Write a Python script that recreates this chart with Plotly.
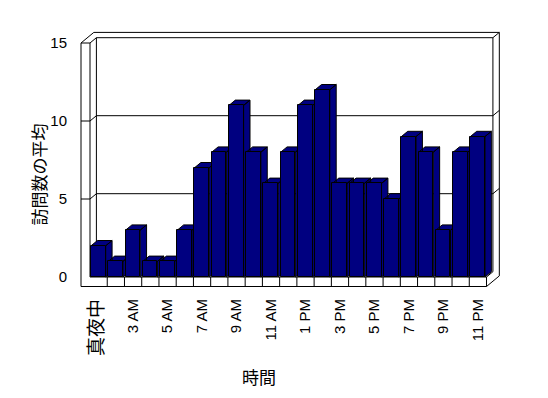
import plotly.graph_objects as go

# ---- data ----
categories = ["真夜中", "1 AM", "3 AM", "4 AM", "5 AM", "6 AM", "7 AM", "8 AM",
              "9 AM", "10 AM", "11 AM", "正午", "1 PM", "2 PM", "3 PM", "4 PM",
              "5 PM", "6 PM", "7 PM", "8 PM", "9 PM", "10 PM", "11 PM"]
values = [2, 1, 3, 1, 1, 3, 7, 8, 11, 8, 6, 8, 11, 12, 6, 6, 6, 5, 9, 8, 3, 8, 9]
y_ticks = [0, 5, 10, 15]
x_title = "時間"
y_title = "訪問数の平均"

# ---- layout geometry (pixels, in window coordinates) ----
W, H = 548, 398
PAGE_OFF = 8                           # default body margin of the html page
L, R, T, B = 79, 503, 31, 289          # plot area in pixels
X0PX, UX = 90.0, 17.24                 # pixel of x=-0.5, px per category
Y0PX, UY = 277.0, 15.6                 # pixel of y=0, px per unit
xrange_ = [(L - X0PX) / UX - 0.5, (R - X0PX) / UX - 0.5]
yrange_ = [(Y0PX - B) / UY, (Y0PX - T) / UY]
DX, DY = 6.4 / UX, 5.3 / UY            # one depth step in data units
XO = (81 - X0PX) / UX - 0.5            # outer edge of left wall
YB = (Y0PX - 286.5) / UY               # bottom of floor slab
XL = -0.5
XR = len(categories) - 0.5
YTOP = y_ticks[-1]

BAR_W, BAR_OFF = 0.85, -0.44
NAVY = "#000080"

xpos = list(range(len(categories)))

# ---- 3D faces (top + side) of every bar, derived from the data ----
px, py = [], []
for i, v in zip(xpos, values):
    l = i + BAR_OFF
    r = l + BAR_W
    # top face
    px += [l, r, r + DX, l + DX, l, None]
    py += [v, v, v + DY, v + DY, v, None]
    # side face
    px += [r, r + DX, r + DX, r, r, None]
    py += [0, DY, v + DY, v, 0, None]

fig = go.Figure()
fig.add_trace(go.Scatter(
    x=px, y=py, mode="lines", fill="toself", fillcolor=NAVY,
    line=dict(color="black", width=1), hoverinfo="skip", showlegend=False,
    xaxis="x", yaxis="y"))
fig.add_trace(go.Bar(
    x=xpos, y=values, width=BAR_W, offset=BAR_OFF,
    marker=dict(color=NAVY, line=dict(color="black", width=1)),
    showlegend=False, xaxis="x2", yaxis="y2"))

# ---- 3D frame (walls and floor) ----
segs = []
# left wall
segs.append((XO, YB, XO, YTOP))
segs.append((XO, YTOP, XL, YTOP))
segs.append((XL, 0, XL, YTOP))
segs.append((XO, YTOP, XO + 2 * DX, YTOP + 2 * DY))
segs.append((XL, YTOP, XL + DX, YTOP + DY))
segs.append((XL + DX, DY, XL + DX, YTOP + DY))
# back wall top and right
segs.append((XO + 2 * DX, YTOP + 2 * DY, XR + 2 * DX, YTOP + 2 * DY))
segs.append((XL + DX, YTOP + DY, XR + DX, YTOP + DY))
segs.append((XR + DX, DY, XR + DX, YTOP + DY))
segs.append((XR + 2 * DX, YB + 2 * DY, XR + 2 * DX, YTOP + 2 * DY))
segs.append((XR + DX, YTOP + DY, XR + 2 * DX, YTOP + 2 * DY))
# gridlines on back wall with their wall ticks
for v in y_ticks[1:-1]:
    segs.append((XL + DX, v + DY, XR + DX, v + DY))
    segs.append((XR + DX, v + DY, XR + 2 * DX, v + 2 * DY))
    segs.append((XO, v, XL, v))
    segs.append((XL, v, XL + DX, v + DY))
# floor
segs.append((XO, YB, XR, YB))
segs.append((XL, 0, XR, 0))
segs.append((XR, YB, XR + 2 * DX, YB + 2 * DY))
segs.append((XR, 0, XR + DX, DY))
for k in range(1, len(categories) + 1):
    segs.append((k - 0.5, YB, k - 0.5, 0))

shapes = [dict(type="line", xref="x", yref="y", x0=a, y0=b, x1=c, y1=d,
               line=dict(color="black", width=1), layer="below")
          for a, b, c, d in segs]

def paper_x(p):
    return (p - L) / (R - L)

def paper_y(p):
    return (B - p) / (B - T)

tick_font = dict(family="Liberation Sans, Arial, Noto Sans CJK JP", size=15, color="black")
cjk_font = dict(family="Noto Sans CJK JP, Liberation Sans", size=17, color="black")

ticktext = []
for c in categories[::2]:
    if any(ord(ch) > 0x3000 for ch in c):
        ticktext.append('<span style="font-size:19px">' + c + '</span>')
    else:
        ticktext.append(c)

fig.update_layout(
    template="none",
    width=W - PAGE_OFF, height=H - PAGE_OFF,
    margin=dict(l=L - PAGE_OFF, r=W - R, t=T - PAGE_OFF, b=H - B, pad=0,
                autoexpand=False),
    paper_bgcolor="white", plot_bgcolor="white",
    shapes=shapes,
    bargap=0,
    xaxis=dict(range=xrange_, showgrid=False, zeroline=False, showline=False,
               automargin=False,
               tickmode="array", tickvals=xpos[::2], ticktext=ticktext,
               tickangle=-90, ticks="outside", ticklen=3,
               tickcolor="rgba(0,0,0,0)", tickfont=tick_font, fixedrange=True),
    yaxis=dict(range=yrange_, showgrid=False, zeroline=False, showline=False,
               automargin=False,
               tickmode="array", tickvals=y_ticks,
               ticktext=[str(v) for v in y_ticks],
               ticks="outside", ticklen=8, tickcolor="rgba(0,0,0,0)",
               tickfont=tick_font, fixedrange=True),
    xaxis2=dict(range=xrange_, overlaying="x", visible=False, fixedrange=True,
                automargin=False),
    yaxis2=dict(range=yrange_, overlaying="y", visible=False, fixedrange=True,
                automargin=False),
    annotations=[
        dict(text=x_title, xref="paper", yref="paper",
             x=paper_x(258.5), y=paper_y(376.5), showarrow=False,
             xanchor="center", yanchor="middle", font=cjk_font),
        dict(text=y_title, xref="paper", yref="paper",
             x=paper_x(37.5), y=paper_y(175), showarrow=False, textangle=-90,
             xanchor="center", yanchor="middle", font=cjk_font),
    ],
)

fig.write_html("out.html")
